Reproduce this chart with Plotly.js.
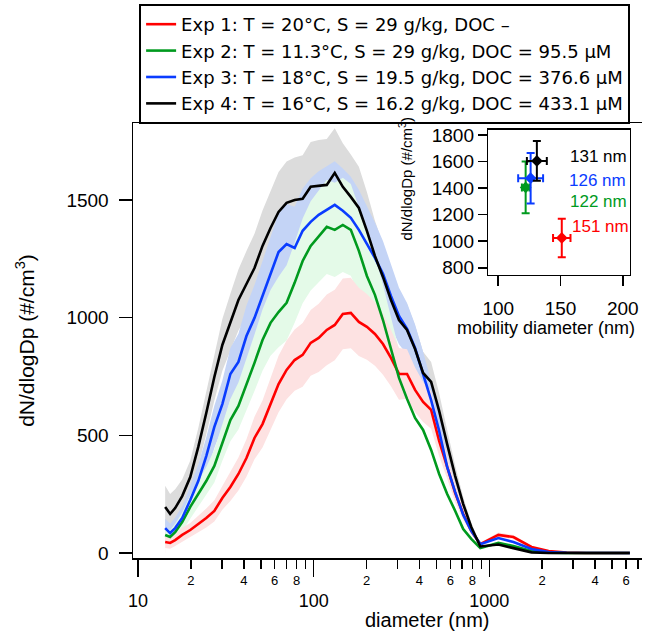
<!DOCTYPE html>
<html>
<head>
<meta charset="utf-8">
<script src="https://cdn.plot.ly/plotly-3.0.1.min.js"></script>
<style>html,body{margin:0;padding:0;background:#fff;}</style>
</head>
<body>
<div id="chart" style="width:645px;height:631px;"></div>
<script>
// ---- data ----
const diameter = [14.27,15.23,16.27,17.84,19.83,22.03,24.46,27.19,30.20,33.55,37.28,41.42,46.02,51.13,56.80,63.10,70.10,77.88,86.53,96.13,106.8,118.7,131.8,146.5,162.7,180.8,200.9,223.2,248.0,275.4,306.0,340.0,377.7,419.7,466.3,518.0,575.4,639.3,710.2,789.0,888.3,1126,1371,1738,2174,2754,3584,4663,6310];

const exp1 = [47,43,55,77,98,123,149,179,234,281,336,404,489,548,633,718,778,820,842,893,914,948,969,1016,1020,982,961,931,888,829,761,761,693,642,608,476,366,255,166,94,38,77,68,26,9,2,0,0,0];
const exp2 = [77,68,89,132,196,251,306,370,472,565,625,714,808,905,978,1024,1063,1148,1241,1305,1347,1386,1373,1394,1373,1284,1177,1097,990,871,744,655,574,523,438,336,251,179,102,60,21,43,30,9,2,0,0,0,0];
const exp3 = [106,85,106,149,225,306,412,536,633,761,812,922,999,1092,1190,1279,1313,1296,1369,1407,1437,1458,1479,1454,1424,1373,1313,1254,1186,1092,1007,952,871,765,650,519,366,259,162,94,38,64,47,17,4,1,0,0,0];
const exp4 = [196,166,191,242,323,451,595,748,884,982,1075,1143,1211,1305,1381,1449,1488,1500,1505,1556,1560,1564,1615,1556,1513,1466,1369,1262,1173,1075,990,948,867,765,727,604,463,327,208,111,28,36,21,3,0,0,0,0,0];

const sd1 = [25,25,25,30,30,35,40,45,50,60,70,80,90,100,110,120,125,130,135,140,145,150,150,150,150,145,140,135,130,120,110,105,95,85,80,65,50,40,25,15,6,10,9,4,1,0,0,0,0];
const sd2 = [30,30,35,40,50,55,60,70,80,90,100,110,120,130,140,150,160,170,180,190,195,200,200,200,195,185,175,165,150,135,120,110,100,90,80,65,50,40,25,15,6,6,5,2,0,0,0,0,0];
const sd3 = [40,40,45,50,60,70,80,90,100,110,120,130,140,150,160,165,170,175,180,185,185,185,185,180,175,170,160,150,140,130,120,110,100,90,80,70,55,40,28,16,8,8,7,3,1,0,0,0,0];
const sd4 = [90,85,80,70,70,80,90,100,110,120,130,140,145,150,160,170,175,180,185,190,195,195,190,185,180,175,165,150,140,130,120,110,100,90,85,75,60,45,30,18,8,6,5,2,0,0,0,0,0];

const legendNames = [
  "Exp 1: T = 20°C, S = 29 g/kg, DOC –",
  "Exp 2: T = 11.3°C, S = 29 g/kg, DOC = 95.5 µM",
  "Exp 3: T = 18°C, S = 19.5 g/kg, DOC = 376.6 µM",
  "Exp 4: T = 16°C, S = 16.2 g/kg, DOC = 433.1 µM"
];

// inset: mode (mobility) diameter and peak concentration
const insetDiam = [151, 122, 126, 131];
const insetDiamErr = [7, 3, 10, 8];
const insetConc = [1025, 1405, 1475, 1605];
const insetConcErr = [145, 195, 190, 150];
const insetLabels = ["151 nm", "122 nm", "126 nm", "131 nm"];

const majorTicks = [10, 100, 1000];
const minorTicks = [20,30,40,50,60,70,80,90,200,300,400,500,600,700,800,900,2000,3000,4000,5000,6000,7000];
const minorText = ["2","","4","","6","","8","","2","","4","","6","","8","","2","","4","","6",""];
const yTicks = [0, 500, 1000, 1500];
const insetYTicks = [800, 1000, 1200, 1400, 1600, 1800];
const insetXTicks = [100, 150, 200];

// ---- styles ----
const lineColors = ["#ff0000", "#009a1e", "#0a3cff", "#000000"];
const bandColors = ["rgb(253,226,226)", "rgb(228,250,232)", "rgb(196,212,246)", "rgb(220,220,220)"];
const series = [exp1, exp2, exp3, exp4];
const sds = [sd1, sd2, sd3, sd4];
const FONT = "Liberation Sans, Arial, Helvetica, sans-serif";
const LEGFONT = "DejaVu Sans, Liberation Sans, Arial, sans-serif";

const traces = [];
// bands on the base x axis: drawn from back (Exp 4) to front (Exp 1)
for (let k = 3; k >= 0; k--) {
  const up = series[k].map((v, i) => v + sds[k][i]);
  const lo = series[k].map((v, i) => Math.max(0, v - sds[k][i]));
  traces.push({x: diameter, y: up, type: 'scatter', mode: 'lines', fill: 'tozeroy',
    fillcolor: bandColors[k], line: {width: 0, color: bandColors[k]}, showlegend: false, hoverinfo: 'skip'});
  traces.push({x: diameter, y: lo, type: 'scatter', mode: 'lines', fill: 'tozeroy',
    fillcolor: '#ffffff', line: {width: 0, color: '#ffffff'}, showlegend: false, hoverinfo: 'skip'});
}
// mean lines on the overlaid x axis (drawn above the bands)
for (let k = 0; k < 4; k++) {
  traces.push({x: diameter, y: series[k], xaxis: 'x2', type: 'scatter', mode: 'lines', name: legendNames[k],
    line: {color: lineColors[k], width: 2.6}});
}
// inset points
for (let k = 0; k < 4; k++) {
  traces.push({x: [insetDiam[k]], y: [insetConc[k]], xaxis: 'x3', yaxis: 'y3', type: 'scatter', mode: 'markers',
    marker: {symbol: 'diamond', size: 9, color: lineColors[k]},
    error_x: {type: 'data', array: [insetDiamErr[k]], color: lineColors[k], thickness: 2, width: 4},
    error_y: {type: 'data', array: [insetConcErr[k]], color: lineColors[k], thickness: 2, width: 4},
    showlegend: false, hoverinfo: 'skip'});
}

const annotations = [
  {text: "diameter (nm)", xref: 'paper', yref: 'paper', x: 0.578, y: -0.142, xanchor: 'center', yanchor: 'middle',
   showarrow: false, font: {size: 20, family: FONT}},
  {text: "mobility diameter (nm)", xref: 'paper', yref: 'paper', x: 0.811, y: 0.529, xanchor: 'center', yanchor: 'middle',
   showarrow: false, font: {size: 18, family: FONT}},
  {text: "dN/dlogDp (#/cm<sup>3</sup>)", xref: 'paper', yref: 'paper', x: 0.536, y: 0.872, textangle: -90,
   xanchor: 'center', yanchor: 'middle', showarrow: false, font: {size: 15, family: FONT}}
];
const insetLabelX = [157.6, 156.2, 155.4, 156.2];
const insetLabelY = [1110, 1298, 1456, 1635];
for (let k = 0; k < 4; k++) {
  annotations.push({text: insetLabels[k], xref: 'x3', yref: 'y3', x: insetLabelX[k], y: insetLabelY[k],
    xanchor: 'left', yanchor: 'middle', showarrow: false, font: {size: 17, family: FONT, color: lineColors[k]}});
}

const axBase = {showgrid: false, zeroline: false, linecolor: 'black', linewidth: 1.5, tickcolor: 'black', tickwidth: 1.5, ticks: 'outside'};
const xRange = [Math.log10(9.36), Math.log10(7400)];

const layout = {
  width: 645, height: 631,
  margin: {l: 133, r: 3, t: 123, b: 73},
  paper_bgcolor: '#ffffff', plot_bgcolor: '#ffffff',
  font: {family: FONT, color: 'black'},
  showlegend: true,
  legend: {x: 0.012, y: 1.2736, xanchor: 'left', yanchor: 'top', bordercolor: 'black', borderwidth: 2,
    bgcolor: '#ffffff', font: {size: 18, family: LEGFONT}, tracegroupgap: 0, itemwidth: 30, traceorder: 'normal'},
  xaxis: Object.assign({}, axBase, {type: 'log', range: xRange,
    showline: true, mirror: true, tickmode: 'array', tickvals: majorTicks, ticktext: majorTicks.map(String),
    ticklen: 17, tickfont: {size: 18}, ticklabelstandoff: 9}),
  xaxis2: Object.assign({}, axBase, {type: 'log', range: xRange, overlaying: 'x',
    anchor: 'y', side: 'bottom', showline: false, tickmode: 'array', tickvals: minorTicks, ticktext: minorText,
    ticklen: 10, tickfont: {size: 13}}),
  yaxis: Object.assign({}, axBase, {range: [-21, 1827], showline: true, tickmode: 'array', tickvals: yTicks,
    ticklen: 13, tickfont: {size: 19}, ticklabelstandoff: 6,
    title: {text: "dN/dlogDp (#/cm<sup>3</sup>)", font: {size: 21}, standoff: 26}}),
  xaxis3: Object.assign({}, axBase, {domain: [0.698, 0.976], anchor: 'y3', range: [92, 205.6], showline: true, mirror: true,
    tickmode: 'array', tickvals: insetXTicks, ticklen: 10, tickfont: {size: 19}, ticklabelstandoff: 6}),
  yaxis3: Object.assign({}, axBase, {domain: [0.651, 0.984], anchor: 'x3', range: [747, 1838], showline: true, mirror: true,
    tickmode: 'array', tickvals: insetYTicks, ticklen: 9, tickfont: {size: 19}}),
  annotations: annotations
};

Plotly.newPlot('chart', traces, layout, {staticPlot: true, displayModeBar: false});
</script>
</body>
</html>
